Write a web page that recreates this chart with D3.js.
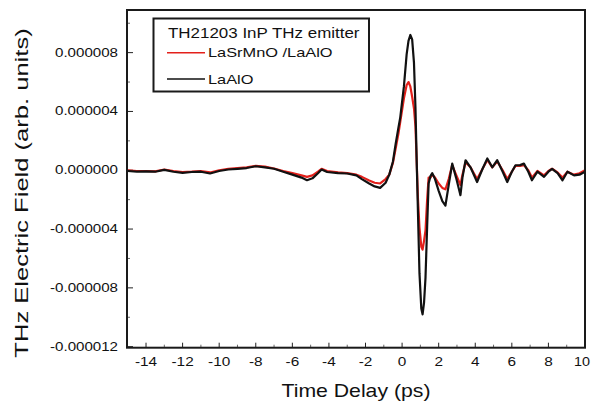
<!DOCTYPE html>
<html><head><meta charset="utf-8">
<script src="https://cdn.jsdelivr.net/npm/d3@7"></script>
<style>
html,body{margin:0;padding:0;background:#fff;}
svg{display:block;}
text{font-family:"Liberation Sans",Arial,sans-serif;fill:#111;}
</style></head>
<body>
<svg id="c" width="591" height="401"></svg>
<script>
// time delay (ps)
const timeDelay = [
 -15,-14.5,-14,-13.5,-13,-12.5,-12,-11.5,-11,-10.5,
 -10,-9.5,-9,-8.5,-8,-7.5,-7,-6.5,-6,
 -5.5,-5.2,-4.9,-4.6,-4.4,-4.1,
 -3.5,-3,-2.5,-2.2,-1.8,-1.5,-1.2,-0.9,
 -0.7,-0.5,-0.35,-0.2,-0.1,
 0.1,0.25,0.35,0.45,0.55,0.65,0.73,0.8,0.87,0.95,
 1.05,1.12,1.2,1.28,1.37,1.45,1.55,1.65,1.8,
 2.0,2.2,2.37,2.55,2.74,2.95,3.19,3.3,3.47,3.74,
 4.1,4.4,4.66,4.93,5.2,5.5,5.75,6.0,6.2,6.45,6.66,6.9,
 7.1,7.4,7.76,8.0,8.2,8.5,8.77,9.04,9.4,9.7,10.0];
// THz field, in units of 1e-6 (arb. units)
const fieldLSMO = [
 0.0,-0.05,-0.05,-0.08,0.05,-0.05,-0.12,-0.1,-0.05,-0.15,
 0.0,0.1,0.15,0.2,0.3,0.25,0.12,-0.05,-0.2,
 -0.35,-0.45,-0.35,-0.1,0.1,-0.05,
 -0.15,-0.2,-0.3,-0.45,-0.7,-0.85,-0.9,-0.6,
 -0.3,0.5,1.5,2.5,3.3,
 4.9,5.8,6.0,5.7,5.0,4.2,3.0,0.5,-2.0,-3.9,
 -5.2,-5.4,-4.8,-4.1,-2.0,-0.5,-0.5,-0.3,-0.5,
 -0.9,-1.2,-1.3,-0.6,0.35,-0.3,-1.0,-0.3,0.55,0.2,
 -0.6,0.1,0.7,0.2,0.6,0.0,-0.6,-0.1,0.3,0.3,0.35,0.0,
 -0.5,-0.05,-0.35,-0.05,0.1,-0.15,-0.5,-0.1,-0.3,-0.2,0.0];
const fieldLAO = [
 -0.05,-0.1,-0.08,-0.1,0.03,-0.1,-0.18,-0.12,-0.1,-0.22,
 -0.05,0.05,0.1,0.15,0.27,0.2,0.1,-0.1,-0.3,
 -0.5,-0.68,-0.55,-0.2,0.05,-0.12,
 -0.2,-0.22,-0.35,-0.6,-0.9,-1.1,-1.2,-0.85,
 -0.3,0.6,1.8,2.9,3.6,
 5.7,7.9,8.8,9.2,8.9,7.3,4.3,0.5,-3.0,-7.0,
 -9.4,-9.8,-9.0,-7.3,-3.8,-0.9,-0.4,-0.2,-0.6,
 -1.4,-2.1,-2.4,-1.0,0.45,-0.5,-1.7,-0.5,0.68,0.2,
 -0.8,0.1,0.8,0.2,0.68,-0.1,-0.8,-0.1,0.34,0.35,0.45,-0.1,
 -0.68,-0.1,-0.45,-0.1,0.1,-0.2,-0.68,-0.1,-0.35,-0.3,-0.1];

const xTicks = [-14,-12,-10,-8,-6,-4,-2,0,2,4,6,8,10];
const xMinor = [-13,-11,-9,-7,-5,-3,-1,1,3,5,7,9];
const yTicks = [8,4,0,-4,-8,-12];
const yTickLabels = ["0.000008","0.000004","0.000000","-0.000004","-0.000008","-0.000012"];
const yMinor = [10,6,2,-2,-6,-10];
const legendTitle = "TH21203 InP THz emitter";
const seriesNames = ["LaSrMnO /LaAlO","LaAlO"];
const seriesColors = ["#e3201b","#111111"];
const xTitle = "Time Delay (ps)";
const yTitle = "THz Electric Field (arb. units)";

const L = 127, R = 585, T = 10, B = 347.7;
const svg = d3.select("#c");
const x = d3.scaleLinear().domain([-15.04, 10.0]).range([L, R]);
const y = d3.scaleLinear().domain([-12.07, 10.9]).range([B, T]);

// ticks (inside)
const g = svg.append("g");
g.selectAll(".xt").data(xTicks).join("line")
  .attr("x1", d => x(d)).attr("x2", d => x(d)).attr("y1", B).attr("y2", B - 5)
  .attr("stroke", "#222").attr("stroke-width", 1);
g.selectAll(".xm").data(xMinor).join("line")
  .attr("x1", d => x(d)).attr("x2", d => x(d)).attr("y1", B).attr("y2", B - 3)
  .attr("stroke", "#444").attr("stroke-width", 0.8);
g.selectAll(".yt").data(yTicks).join("line")
  .attr("x1", L).attr("x2", L + 6).attr("y1", d => y(d)).attr("y2", d => y(d))
  .attr("stroke", "#222").attr("stroke-width", 1);
g.selectAll(".ym").data(yMinor).join("line")
  .attr("x1", L).attr("x2", L + 3).attr("y1", d => y(d)).attr("y2", d => y(d))
  .attr("stroke", "#444").attr("stroke-width", 0.8);

// tick labels
svg.selectAll(".xl").data(xTicks).join("text")
  .attr("transform", d => d === 10 ? `translate(590,366) scale(1.2,1)` : `translate(${x(d)},366) scale(1.28,1)`)
  .attr("text-anchor", d => d === 10 ? "end" : "middle").attr("font-size", 12)
  .text(d => d < 0 ? "-" + Math.abs(d) : d);
svg.selectAll(".yl").data(yTicks).join("text")
  .attr("transform", d => `translate(118,${y(d) + 4}) scale(1.26,1)`)
  .attr("text-anchor", "end").attr("font-size", 12)
  .text((d, i) => yTickLabels[i]);

// axis titles
svg.append("text").attr("transform", `translate(${(L + R) / 2},397) scale(1.18,1)`)
  .attr("text-anchor", "middle").attr("font-size", 18).text(xTitle);
svg.append("text").attr("transform", `translate(28,193) rotate(-90) scale(1.42,1)`)
  .attr("text-anchor", "middle").attr("font-size", 18).text(yTitle);

// curves
const line = d3.line().x((d, i) => x(timeDelay[i])).y(d => y(d));
svg.append("clipPath").attr("id", "pc").append("rect")
  .attr("x", L).attr("y", T).attr("width", R - L).attr("height", B - T);
[fieldLSMO, fieldLAO].forEach((s, k) => {
  svg.append("path").datum(s).attr("d", line)
    .attr("fill", "none").attr("stroke", seriesColors[k])
    .attr("stroke-width", 2.2).attr("stroke-linejoin", "round")
    .attr("clip-path", "url(#pc)");
});

// frame
svg.append("rect").attr("x", L).attr("y", T).attr("width", R - L).attr("height", B - T)
  .attr("fill", "none").attr("stroke", "#1a1a1a").attr("stroke-width", 2);

// legend
const lg = svg.append("g");
lg.append("rect").attr("x", 153.5).attr("y", 18.5).attr("width", 215.5).attr("height", 73)
  .attr("fill", "#fff").attr("stroke", "#1a1a1a").attr("stroke-width", 2);
lg.append("text").attr("transform", "translate(168,38) scale(1.13,1)")
  .attr("font-size", 15).text(legendTitle);
const ly = [52.7, 79];
const lty = [57, 84];
seriesNames.forEach((n, k) => {
  lg.append("line").attr("x1", 167).attr("x2", 205).attr("y1", ly[k]).attr("y2", ly[k])
    .attr("stroke", seriesColors[k]).attr("stroke-width", 1.5);
  lg.append("text").attr("transform", `translate(208,${lty[k]}) scale(1.26,1)`)
    .attr("font-size", 13).text(n);
});
</script>
</body></html>
